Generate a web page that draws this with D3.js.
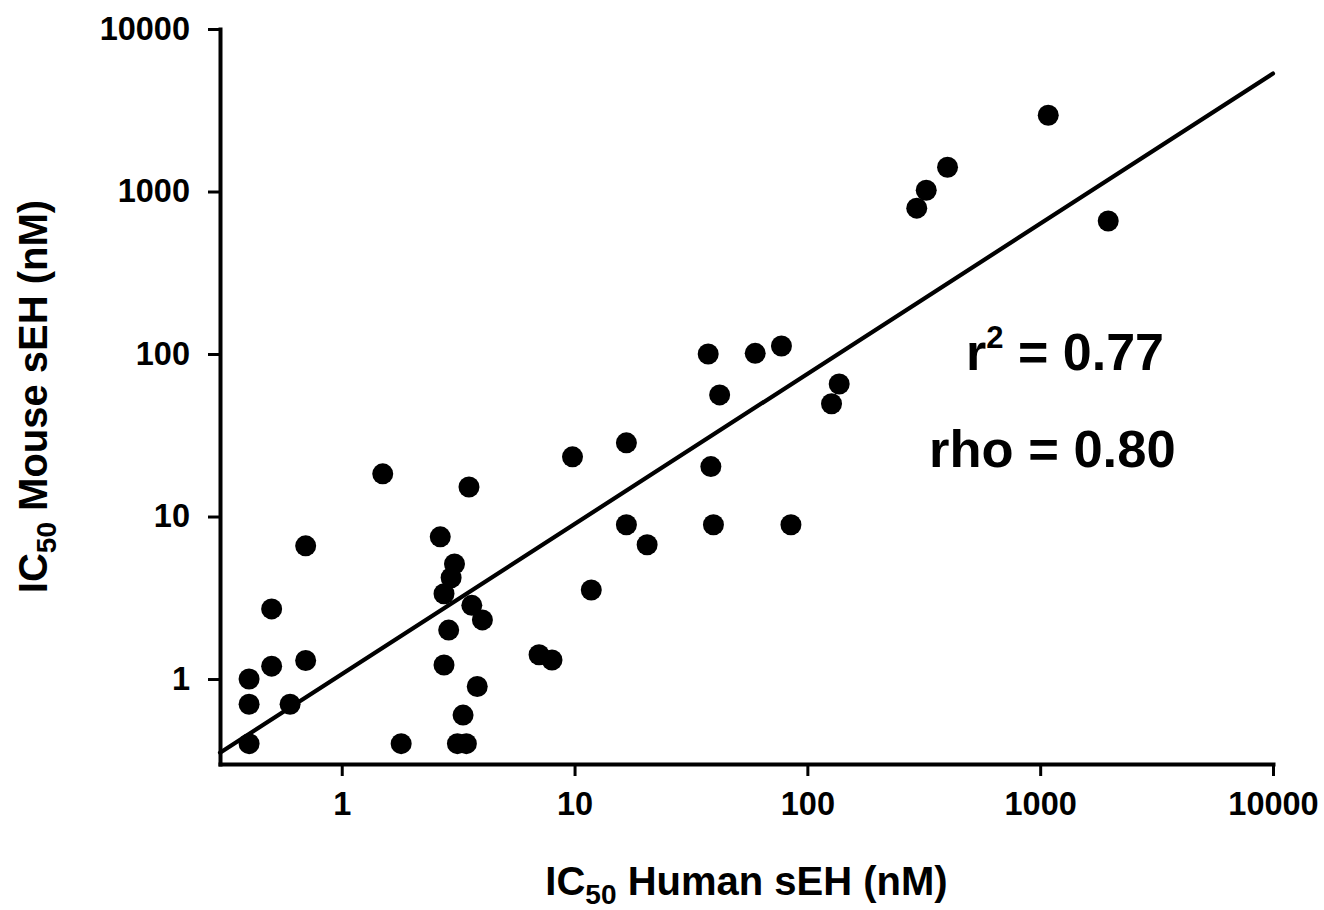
<!DOCTYPE html>
<html>
<head>
<meta charset="utf-8">
<script src="https://cdn.jsdelivr.net/npm/d3@7"></script>
<style>
  body { margin: 0; background: #fff; }
  svg { display: block; }
  text { font-family: "Liberation Sans", Arial, Helvetica, sans-serif; font-weight: bold; fill: #000; }
</style>
</head>
<body>
<div id="chart"></div>
<script>
// IC50 values (nM)
const humanIC50 = [0.4, 0.4, 0.4, 0.5, 0.5, 0.6, 0.7, 0.7, 1.5, 1.8,
  2.65, 2.75, 2.75, 2.88, 2.95, 3.05, 3.14, 3.43, 3.32, 3.52,
  3.62, 4.02, 3.82, 7.04, 8.0, 9.8, 11.8, 16.7, 16.7, 20.5,
  37.5, 38.5, 39.5, 42, 59.7, 77.4, 85, 127, 137, 295,
  324, 400, 1083, 1960];
const mouseIC50 = [1.0, 0.7, 0.4, 1.2, 2.7, 0.7, 1.3, 6.6, 18.3, 0.4,
  7.5, 3.35, 1.22, 2.0, 4.2, 5.1, 0.4, 0.4, 0.6, 15.2,
  2.84, 2.31, 0.9, 1.41, 1.31, 23.3, 3.53, 28.4, 8.9, 6.7,
  100, 20.3, 8.9, 56, 101, 112, 8.9, 49.4, 65.4, 790,
  1018, 1410, 2945, 658];

const tickValues = [1, 10, 100, 1000, 10000];
const tickLabels = ["1", "10", "100", "1000", "10000"];

// log10(mouse) = fitIntercept + fitSlope * log10(human)
const fitIntercept = 0.0297;
const fitSlope = 0.924;

const width = 1324, height = 910;
const margin = {top: 29, right: 51, bottom: 146, left: 220};

const svg = d3.select("#chart").append("svg")
  .attr("width", width)
  .attr("height", height);

const x = d3.scaleLog()
  .domain([0.3, 10000])
  .range([margin.left, width - margin.right]);

const y = d3.scaleLog()
  .domain([0.3, 10000])
  .range([height - margin.bottom, margin.top]);

// axes
const xAxis = svg.append("g")
  .attr("transform", `translate(0,${height - margin.bottom})`)
  .call(d3.axisBottom(x)
    .tickValues(tickValues)
    .tickFormat((d, i) => tickLabels[i])
    .tickSize(12)
    .tickSizeOuter(0)
    .tickPadding(16));

const yAxis = svg.append("g")
  .attr("transform", `translate(${margin.left},0)`)
  .call(d3.axisLeft(y)
    .tickValues(tickValues)
    .tickFormat((d, i) => tickLabels[i])
    .tickSize(12)
    .tickSizeOuter(0)
    .tickPadding(18));

[xAxis, yAxis].forEach(g => {
  g.select(".domain").attr("stroke", "#000").attr("stroke-width", 4).attr("stroke-linecap", "square");
  g.selectAll(".tick line").attr("stroke", "#000").attr("stroke-width", 3);
  g.selectAll(".tick text")
    .attr("font-size", 32.5)
    .attr("font-family", "'Liberation Sans', Arial, sans-serif")
    .attr("font-weight", "bold")
    .attr("fill", "#000");
});
xAxis.selectAll(".tick text").attr("dy", "0.71em");

// regression line
const [x0, x1] = x.domain();
const fit = v => Math.pow(10, fitIntercept + fitSlope * Math.log10(v));
svg.append("line")
  .attr("x1", x(x0)).attr("y1", y(fit(x0)))
  .attr("x2", x(x1)).attr("y2", y(fit(x1)))
  .attr("stroke", "#000")
  .attr("stroke-width", 4.2)
  .attr("stroke-linecap", "round");

// points
svg.append("g")
  .selectAll("circle")
  .data(d3.zip(humanIC50, mouseIC50))
  .join("circle")
  .attr("cx", d => x(d[0]))
  .attr("cy", d => y(d[1]))
  .attr("r", 10.5)
  .attr("fill", "#000");

// axis titles
const xTitle = svg.append("text")
  .attr("x", (margin.left + width - margin.right) / 2)
  .attr("y", 895)
  .attr("text-anchor", "middle")
  .attr("font-size", 40);
xTitle.append("tspan").text("IC");
xTitle.append("tspan").attr("font-size", 28).attr("dy", 9).text("50");
xTitle.append("tspan").attr("dy", -9).text(" Human sEH (nM)");

const yTitle = svg.append("text")
  .attr("transform", `translate(47,${(margin.top + height - margin.bottom) / 2}) rotate(-90)`)
  .attr("text-anchor", "middle")
  .attr("font-size", 40);
yTitle.append("tspan").text("IC");
yTitle.append("tspan").attr("font-size", 28).attr("dy", 9).text("50");
yTitle.append("tspan").attr("dy", -9).text(" Mouse sEH (nM)");

// statistics
const r2 = svg.append("text")
  .attr("x", 966).attr("y", 370)
  .attr("font-size", 52);
r2.append("tspan").text("r");
r2.append("tspan").attr("font-size", 31).attr("dy", -22).text("2");
r2.append("tspan").attr("dy", 22).text(" = 0.77");

svg.append("text")
  .attr("x", 929).attr("y", 467)
  .attr("font-size", 52.5)
  .text("rho = 0.80");
</script>
</body>
</html>
